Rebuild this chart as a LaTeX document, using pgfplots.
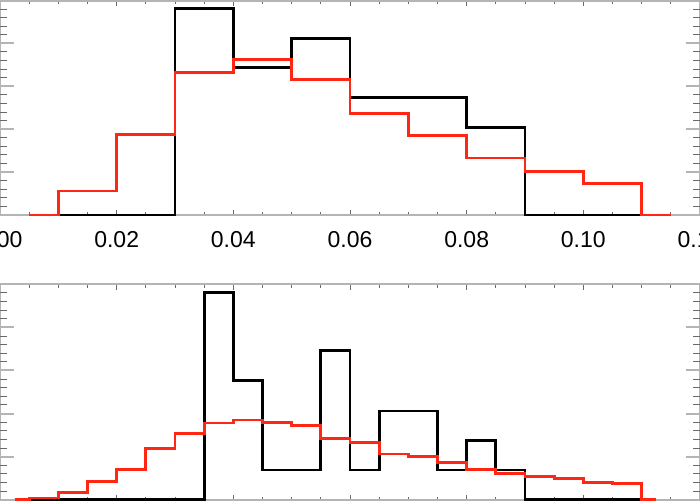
\documentclass[border=0pt]{standalone}
\usepackage{fontspec}
\setmainfont{Liberation Sans}
\usepackage{pgfplots}
\pgfplotsset{compat=1.18}

\definecolor{histred}{RGB}{255,38,20}
\definecolor{axgray}{RGB}{180,180,180}
\definecolor{tickdark}{RGB}{105,105,105}

\pgfplotsset{
  panel/.style={
    scale only axis,
    width=350pt,
    xmin=0, xmax=0.12,
    ymin=0, ymax=5,
    clip=false,
    anchor=south west,
  },
  % axis box, x ticks and x labels
  xpanel/.style={
    panel,
    axis line style={draw=axgray, line width=1pt},
    xtick={0,0.02,0.04,0.06,0.08,0.10,0.12},
    minor x tick num=3,
    ytick=\empty,
    tick align=inside,
    major tick length=2.6pt,
    minor tick length=1.6pt,
    tick style={tickdark, line width=0.5pt},
    scaled x ticks=false,
    xticklabel style={
      font=\fontsize{11.5}{13}\selectfont,
      yshift=-4.6pt,
      /pgf/number format/.cd, fixed, fixed zerofill, precision=2,
      assume math mode=true
    },
  },
  % y ticks only (longer than the x ticks)
  ypanel/.style={
    panel,
    axis line style={draw=none},
    xtick=\empty,
    ytick={0,1,2,3,4,5},
    yticklabels={},
    minor y tick num=4,
    tick align=inside,
    major tick length=7pt,
    minor tick length=3.5pt,
    major tick style={axgray, line width=1pt},
    minor tick style={tickdark, line width=0.5pt},
  },
  hist/.style={const plot, line width=1.45pt},
}

\begin{document}
\begin{tikzpicture}
\useasboundingbox (0,0) rectangle (350pt,250pt);
\clip (0,0) rectangle (350pt,250pt);

% ---------------- top panel (bin 0.01) ----------------
\begin{axis}[xpanel, at={(0pt,142.5pt)}, height=107.25pt]
\addplot[hist, black] coordinates {
(0.005,0) (0.01,0) (0.02,0) (0.03,4.81) (0.04,3.44) (0.05,4.12)
(0.06,2.73) (0.07,2.73) (0.08,2.05) (0.09,0) (0.10,0) (0.11,0) (0.115,0)
};
\addplot[hist, histred] coordinates {
(0.005,0) (0.01,0.56) (0.02,1.88) (0.03,3.33) (0.04,3.63) (0.05,3.15)
(0.06,2.36) (0.07,1.86) (0.08,1.33) (0.09,1.02) (0.10,0.73) (0.11,0) (0.115,0)
};
\end{axis}
\begin{axis}[ypanel, at={(0pt,142.5pt)}, height=107.25pt]
\end{axis}

% ---------------- bottom panel (bin 0.005) ----------------
\begin{axis}[xpanel, at={(0pt,0.15pt)}, height=107.7pt]
\addplot[hist, black] coordinates {
(0.0025,0) (0.005,0) (0.01,0) (0.015,0) (0.02,0) (0.025,0) (0.03,0)
(0.035,4.82) (0.04,2.76) (0.045,0.69) (0.05,0.69) (0.055,3.47) (0.06,0.69)
(0.065,2.06) (0.07,2.06) (0.075,0.69) (0.08,1.38) (0.085,0.69) (0.09,0)
(0.095,0) (0.10,0) (0.105,0) (0.11,0) (0.1125,0)
};
\addplot[hist, histred] coordinates {
(0.0025,0) (0.005,0.04) (0.01,0.17) (0.015,0.42) (0.02,0.71) (0.025,1.18)
(0.03,1.53) (0.035,1.78) (0.04,1.85) (0.045,1.80) (0.05,1.73) (0.055,1.43)
(0.06,1.32) (0.065,1.06) (0.07,1.01) (0.075,0.87) (0.08,0.71) (0.085,0.61)
(0.09,0.54) (0.095,0.50) (0.10,0.39) (0.105,0.37) (0.11,0) (0.1125,0)
};
\end{axis}
\begin{axis}[ypanel, at={(0pt,0.15pt)}, height=107.7pt]
\end{axis}

\end{tikzpicture}
\end{document}
